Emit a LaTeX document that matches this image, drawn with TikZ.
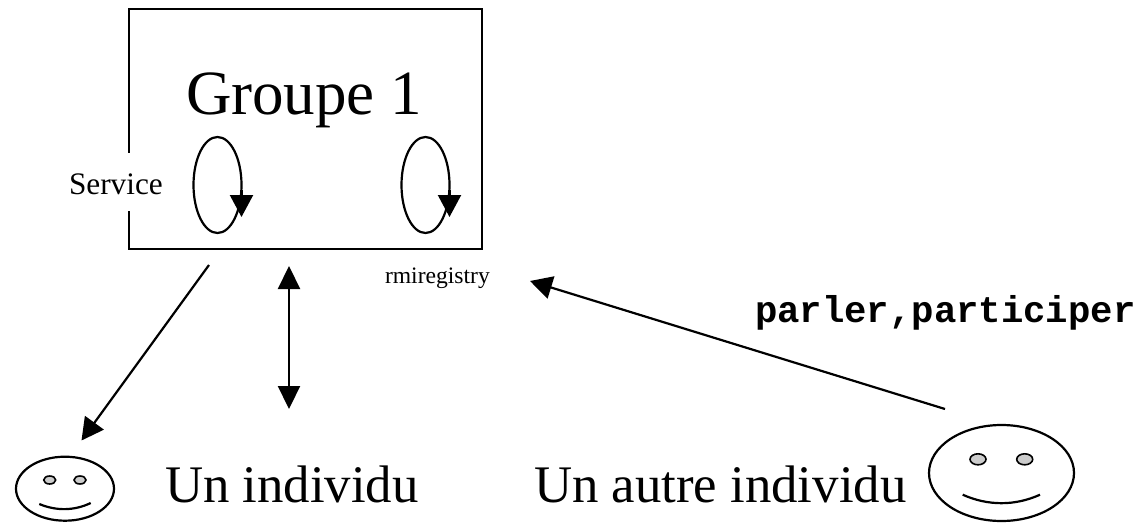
\documentclass[tikz,border=0pt]{standalone}
\usepackage{fontspec}
\setmainfont{Liberation Serif}
\newfontfamily\monob{Liberation Mono}
\usetikzlibrary{arrows.meta,shapes.geometric}
\tikzset{
  x=1pt,y=-1pt,
  ink/.style={line width=2.2pt,draw=black},
  txt/.style={anchor=base west,inner sep=0pt,outer sep=0pt},
  loopring/.style={ellipse,ink,minimum width=48pt,minimum height=96pt,inner sep=0pt},
  face/.style={ellipse,ink,inner sep=0pt},
  eye/.style={ellipse,line width=1.6pt,draw=black,fill=black!20,inner sep=0pt},
  link/.style={ink,-{Triangle[length=22pt,width=23pt]}},
}
\begin{document}
\begin{tikzpicture}
\useasboundingbox (0,0) rectangle (1142,522);
\node[ink,rectangle,minimum width=352.5pt,minimum height=240pt,inner sep=0pt] (group) at (305.5,129) {};
\node[txt,fill=white] (service) at (69,194) {\fontsize{31.3}{32}\selectfont\rule[-17pt]{0pt}{58pt}Service};
\node[txt] (title) at (186,114) {\fontsize{63}{64}\selectfont Groupe 1};
\node[loopring] (loopA) at (217.5,185) {};
\node[loopring] (loopB) at (425.5,185) {};
\coordinate (loopAin) at (241.5,190);
\coordinate (loopAout) at (241.5,217);
\coordinate (loopBin) at (449.5,190);
\coordinate (loopBout) at (449.5,217);
\draw[link] (loopAin) -- (loopAout);
\draw[link] (loopBin) -- (loopBout);
\node[txt] (rmi) at (385,283) {\fontsize{23.6}{24}\selectfont rmiregistry};
\node[txt] (parler) at (755,322) {\fontsize{37.3}{38}\selectfont\monob\bfseries parler,participer};
\node[txt] (un) at (165,502.5) {\fontsize{52.8}{54}\selectfont Un individu};
\node[txt] (autre) at (534,502.5) {\fontsize{52.8}{54}\selectfont Un autre individu};
% small face
\node[face,minimum width=98pt,minimum height=64pt] (faceA) at (65,488.7) {};
\node[eye,minimum width=12pt,minimum height=8pt] (eyeA1) at (49.7,480) {};
\node[eye,minimum width=12pt,minimum height=8pt] (eyeA2) at (80,480) {};
\coordinate (mouthA1) at (39.3,504);
\coordinate (mouthA2) at (90.7,503);
\draw[ink] (mouthA1) .. controls (56,511) and (74,511) .. (mouthA2);
% big face
\node[face,minimum width=145pt,minimum height=96pt] (faceB) at (1001.5,473) {};
\node[eye,minimum width=16pt,minimum height=11pt] (eyeB1) at (978,459.3) {};
\node[eye,minimum width=16pt,minimum height=11pt] (eyeB2) at (1024.7,459.3) {};
\coordinate (mouthB1) at (962.7,494.7);
\coordinate (mouthB2) at (1040,494.7);
\draw[ink] (mouthB1) .. controls (988,506) and (1015,506) .. (mouthB2);
% connectors
\coordinate (a1) at (209,265);
\coordinate (a2) at (81.5,440.5);
\coordinate (b1) at (289,266);
\coordinate (b2) at (289,409);
\coordinate (c1) at (945,409);
\coordinate (c2) at (530,281);
\draw[link] (a1) -- (a2);
\draw[ink,{Triangle[length=23pt,width=22pt]}-{Triangle[length=23pt,width=22pt]}] (b1) -- (b2);
\draw[link] (c1) -- (c2);
\end{tikzpicture}
\end{document}
